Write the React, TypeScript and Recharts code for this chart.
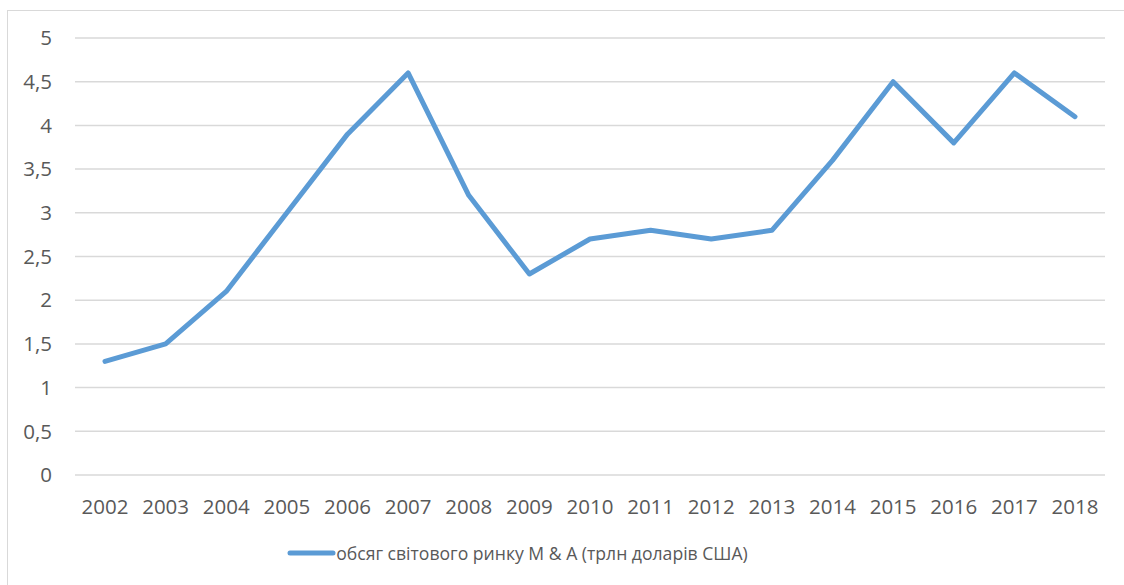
import React from 'react';
import { LineChart, Line, XAxis, YAxis, CartesianGrid, Legend } from 'recharts';

const years = ['2002', '2003', '2004', '2005', '2006', '2007', '2008', '2009', '2010', '2011', '2012', '2013', '2014', '2015', '2016', '2017', '2018'];
const volume = [1.3, 1.5, 2.1, 3.0, 3.9, 4.6, 3.2, 2.3, 2.7, 2.8, 2.7, 2.8, 3.6, 4.5, 3.8, 4.6, 4.1];
const yTicks = [0, 0.5, 1, 1.5, 2, 2.5, 3, 3.5, 4, 4.5, 5];
const seriesName = 'обсяг світового ринку М & А (трлн доларів США)';

const chartData = years.map((year, i) => ({ year, value: volume[i] }));

const FONT = '"Open Sans", "DejaVu Sans", sans-serif';
const TEXT = '#595959';
const BLUE = '#5b9bd5';

const LegendBox = () => (
  <div style={{ display: 'flex', justifyContent: 'center', alignItems: 'center', height: 40, paddingRight: 70, fontFamily: FONT, fontSize: 17.6, color: TEXT }}>
    <svg width={49} height={10}>
      <line x1={3} y1={5} x2={46} y2={5} stroke={BLUE} strokeWidth={5} strokeLinecap="round" />
    </svg>
    <span>{seriesName}</span>
  </div>
);

export default function App() {
  return (
    <div style={{ position: 'absolute', left: 0, top: 0, width: 1124, height: 585, overflow: 'hidden', background: '#fff' }}>
      <div style={{ position: 'absolute', left: 7, top: 10, width: 1140, height: 620, border: '1px solid #d9d9d9' }} />
      <div style={{ position: 'absolute', left: 0, top: 0 }}>
        <LineChart width={1124} height={585} data={chartData} margin={{ top: 38, right: 19, left: 0, bottom: 12 }}>
          <CartesianGrid vertical={false} stroke="#d9d9d9" strokeWidth={1.5} />
          <XAxis
            dataKey="year"
            axisLine={false}
            tickLine={false}
            tickMargin={18}
            height={58}
            interval={0}
            padding={{ left: 30, right: 30 }}
            tick={{ fill: TEXT, fontSize: 20.5, fontFamily: FONT }}
          />
          <YAxis
            domain={[0, 5]}
            ticks={yTicks}
            width={75}
            axisLine={false}
            tickLine={false}
            tickMargin={17}
            tickFormatter={(v: number) => String(v).replace('.', ',')}
            tick={{ fill: TEXT, fontSize: 20.5, fontFamily: FONT }}
          />
          <Legend verticalAlign="bottom" height={40} content={<LegendBox />} />
          <Line
            type="linear"
            dataKey="value"
            name={seriesName}
            stroke={BLUE}
            strokeWidth={5}
            strokeLinecap="round"
            strokeLinejoin="round"
            dot={false}
            isAnimationActive={false}
          />
        </LineChart>
      </div>
    </div>
  );
}
